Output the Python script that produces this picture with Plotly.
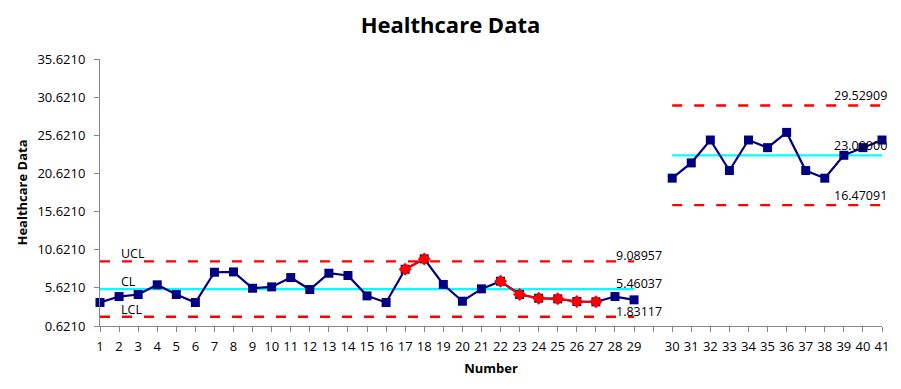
import plotly.graph_objects as go

# ---- data ----
x_labels = [str(i) for i in range(1, 30)] + [""] + [str(i) for i in range(30, 42)]

phase1_values = [3.70, 4.48, 4.75, 6.02, 4.75, 3.70, 7.67, 7.71, 5.57, 5.75,
                 6.97, 5.40, 7.54, 7.24, 4.57, 3.70, 8.06, 9.42, 6.06, 3.87,
                 5.49, 6.49, 4.75, 4.26, 4.18, 3.83, 3.79, 4.48, 4.05]
phase2_values = [20, 22, 25, 21, 25, 24, 26, 21, 20, 23, 24, 25]

# points flagged by rules (red)
flag_groups = [[17, 18], [22, 23, 24, 25, 26, 27]]

phase1_limits = {"UCL": 9.08957, "CL": 5.46037, "LCL": 1.83117}
phase2_limits = {"UCL": 29.52909, "CL": 23.00000, "LCL": 16.47091}

y_tick_values = [0.621, 5.621, 10.621, 15.621, 20.621, 25.621, 30.621, 35.621]

# ---- positions on the axis (categories incl. gap) ----
pos = list(range(1, len(x_labels) + 1))
phase1_pos = pos[:29]
phase2_pos = pos[30:]

FONT = "Open Sans"
NAVY = "#000080"
RED = "#FF0000"
CYAN = "#00FFFF"

fig = go.Figure()

def limit_lines(xs, limits):
    for key, val in limits.items():
        fig.add_trace(go.Scatter(
            x=[xs[0], xs[-1]], y=[val, val], mode="lines",
            line=dict(color=CYAN if key == "CL" else RED, width=2.2 if key == "CL" else 2.4,
                      dash="solid" if key == "CL" else "10px,12px"),
            hoverinfo="skip", showlegend=False, cliponaxis=False))

limit_lines(phase1_pos, phase1_limits)
limit_lines(phase2_pos, phase2_limits)

fig.add_trace(go.Scatter(x=phase1_pos, y=phase1_values, mode="lines+markers",
                         line=dict(color=NAVY, width=2.2),
                         marker=dict(symbol="square", size=9, color=NAVY),
                         showlegend=False, cliponaxis=False))
fig.add_trace(go.Scatter(x=phase2_pos, y=phase2_values, mode="lines+markers",
                         line=dict(color=NAVY, width=2.2),
                         marker=dict(symbol="square", size=9, color=NAVY),
                         showlegend=False, cliponaxis=False))

for grp in flag_groups:
    fig.add_trace(go.Scatter(x=[phase1_pos[i - 1] for i in grp],
                             y=[phase1_values[i - 1] for i in grp],
                             mode="lines+markers",
                             line=dict(color=RED, width=2),
                             marker=dict(symbol="diamond", size=10, color=RED, line=dict(width=0)),
                             showlegend=False, cliponaxis=False))

annotations = []
for key, val in phase1_limits.items():
    annotations.append(dict(x=phase1_pos[1], y=val, xref="x", yref="y", text=key,
                            showarrow=False, xanchor="left", yanchor="bottom", yshift=-3,
                            font=dict(family=FONT, size=12.5, color="#000")))
    annotations.append(dict(x=phase1_pos[-1], y=val, xref="x", yref="y", text=f"{val:.5f}",
                            showarrow=False, xanchor="right", yanchor="bottom", xshift=30, yshift=-5,
                            font=dict(family=FONT, size=12.5, color="#000")))
for key, val in phase2_limits.items():
    annotations.append(dict(x=phase2_pos[-1], y=val, xref="x", yref="y", text=f"{val:.5f}",
                            showarrow=False, xanchor="right", yanchor="bottom", xshift=7, yshift=-1,
                            font=dict(family=FONT, size=12.5, color="#000")))

fig.update_layout(
    width=901, height=389,
    margin=dict(l=100, r=19, t=59, b=63, autoexpand=False),
    paper_bgcolor="white", plot_bgcolor="white",
    title=dict(text="<b>Healthcare Data</b>", x=0.5, xanchor="center", y=0.935, yanchor="middle",
               font=dict(family=FONT, size=22, color="#000")),
    annotations=annotations,
    font=dict(family=FONT, color="#000"),
)
fig.update_xaxes(range=[pos[0], pos[-1]], tickmode="array", tickvals=pos, ticktext=x_labels,
                 automargin=False, ticklabelstandoff=3,
                 showline=True, linecolor="#868686", linewidth=1, ticks="outside",
                 tickcolor="#868686", ticklen=5, showgrid=False, zeroline=False,
                 tickfont=dict(family=FONT, size=13, color="#000"),
                 title=dict(text="<b>Number</b>", font=dict(family=FONT, size=13, color="#000"), standoff=10))
fig.update_yaxes(range=[y_tick_values[0], y_tick_values[-1]], tickmode="array", tickvals=y_tick_values,
                 ticktext=[f"{v:.4f}" for v in y_tick_values],
                 automargin=False, ticklabelstandoff=6,
                 showline=True, linecolor="#868686", linewidth=1, ticks="outside",
                 tickcolor="#868686", ticklen=5, showgrid=False, zeroline=False,
                 tickfont=dict(family=FONT, size=13, color="#000"),
                 title=dict(text="<b>Healthcare Data</b>", font=dict(family=FONT, size=13, color="#000"), standoff=6))

fig.write_html("out.html", config={"displayModeBar": False},
               post_script="document.body.style.margin='0';document.body.style.overflow='hidden';")
